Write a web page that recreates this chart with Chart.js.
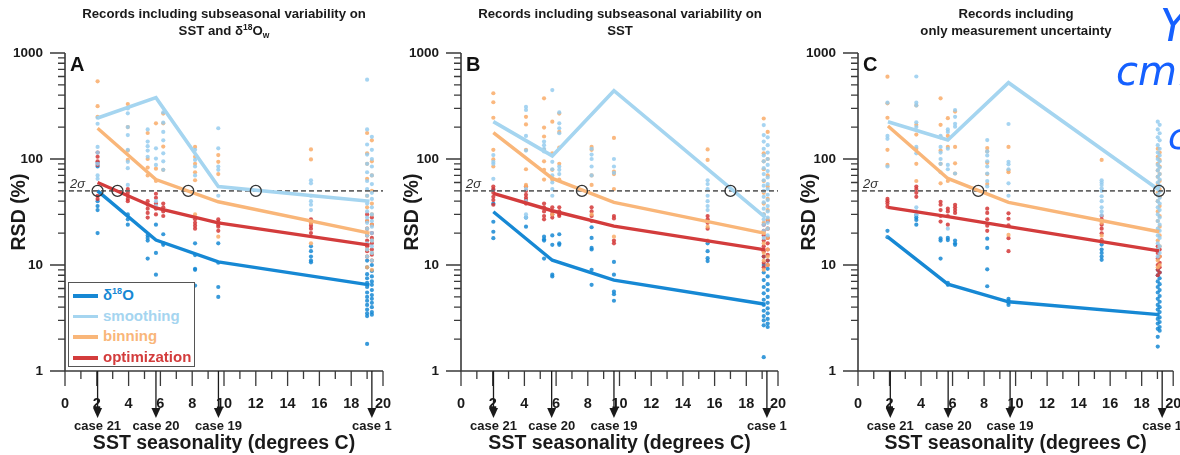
<!DOCTYPE html>
<html lang="en">
<head>
<meta charset="UTF-8">
<title>RSD vs SST seasonality</title>
<script src="https://cdn.jsdelivr.net/npm/chart.js"></script>
<style>
  body { margin: 0; background: #fff; font-family: 'Liberation Sans', Arial, sans-serif; }
  #wrap { position: relative; width: 1180px; height: 455px; overflow: hidden; }
  canvas { position: absolute; top: 0; }
  .ptitle { position: absolute; top: 6px; width: 360px; text-align: center; font-weight: bold;
            font-size: 13.2px; line-height: 16.5px; color: #1a1a1a; }
  .ptitle sup { font-size: 8.5px; vertical-align: 5px; line-height: 0; }
  .ptitle sub { font-size: 8.5px; vertical-align: -3px; line-height: 0; }
  .letter { position: absolute; top: 54px; font-weight: bold; font-size: 20px; line-height: 20px; color: #111; }
  .legend { position: absolute; left: 68px; top: 282px; width: 127px; height: 85px; border: 1px solid #555;
            background: #fff; box-sizing: border-box; padding-top: 2px; }
  .legend .row { height: 20.7px; position: relative; font-weight: bold; font-size: 15px; line-height: 20.7px; }
  .legend .sw { position: absolute; left: 4px; top: 9px; width: 25px; height: 3.5px; }
  .legend .tx { position: absolute; left: 34px; top: 0; }
  .legend sup { font-size: 9px; vertical-align: 6px; line-height: 0; }
  .hand { position: absolute; color: #1560ff; font-family: 'DejaVu Sans', sans-serif; font-style: italic; font-weight: 200; }
</style>
</head>
<body>
<div id="wrap">
  <canvas id="chartA" width="393" height="455" style="left:0px"></canvas>
  <canvas id="chartB" width="397" height="455" style="left:393px"></canvas>
  <canvas id="chartC" width="390" height="455" style="left:790px"></canvas>

  <div class="ptitle" style="left:44px">Records including subseasonal variability on<br>SST and &delta;<sup>18</sup>O<sub>w</sub></div>
  <div class="ptitle" style="left:440px">Records including subseasonal variability on<br>SST</div>
  <div class="ptitle" style="left:836px">Records including<br>only measurement uncertainty</div>

  <div class="letter" style="left:70px">A</div>
  <div class="letter" style="left:466px">B</div>
  <div class="letter" style="left:863px">C</div>

  <div class="legend">
    <div class="row"><span class="sw" style="background:#1688d4"></span><span class="tx" style="color:#1688d4">&delta;<sup>18</sup>O</span></div>
    <div class="row"><span class="sw" style="background:#a5d5f0"></span><span class="tx" style="color:#a5d5f0">smoothing</span></div>
    <div class="row"><span class="sw" style="background:#f9b679"></span><span class="tx" style="color:#f9b679">binning</span></div>
    <div class="row"><span class="sw" style="background:#d33c3c"></span><span class="tx" style="color:#d33c3c">optimization</span></div>
  </div>

  <div class="hand" style="left:1160px; top:0px; font-size:44px">Y</div>
  <div class="hand" style="left:1116px; top:48px; font-size:40px">cmf</div>
  <div class="hand" style="left:1168px; top:116px; font-size:36px">c</div>
</div>

<script>
// ---- shared values ----
const caseLabels = ['case 21', 'case 20', 'case 19', 'case 1'];
const caseX = [2.05, 5.72, 9.65, 19.3];
const sigmaLevel = 50;
const sigmaRange = [0.25, 20];

// ---- panel A ----
const aLineX = [2.05, 5.72, 9.64, 19.15];
const aD18O = [50, 17.2, 10.7, 6.5];
const aSmooth = [244, 379, 55, 40];
const aBin = [195, 64, 39.5, 20];
const aOpt = [60, 34.5, 25, 15.4];
const aCircleX = [2.05, 3.3, 7.75, 12.0];
const aCols = [2.05, 3.95, 5.2, 5.72, 6.18, 8.18, 9.64, 15.47, 19.0, 19.3];
const aDotsD18O = [[92, 85, 40, 36, 33, 20], [30, 27, 24], [19, 18, 17, 11.5], [24, 13, 8.1, 6.5], [19.5, 16, 15.5],
  [16, 12.4, 9.2, 9.0, 6.4], [16, 10.5, 6.2, 5.0], [15, 13.5, 12, 11, 10.6],
  [11, 9.5, 8.2, 7.5, 6.8, 6.2, 5.5, 5.0, 4.6, 4.2, 3.8, 3.5, 3.3, 1.8],
  [10, 8.8, 7.8, 7.0, 6.5, 5.8, 5.2, 4.8, 4.4, 4.0, 3.6, 3.4]];
const aDotsSmooth = [[245, 215, 130, 115, 90, 70, 65], [300, 270, 200, 168, 122, 94, 82, 57], [190, 146, 132, 120, 105],
  [126, 101, 88, 40, 36], [275, 220, 180, 150, 113, 95, 79], [122, 98, 85, 70], [195, 126, 85, 79, 45],
  [63, 59, 45, 40, 37, 33],
  [560, 190, 137, 110, 90, 75, 62, 52, 45, 38, 32, 28, 25, 22, 19, 16, 14, 12],
  [162, 122, 100, 85, 70, 58, 48, 42, 35, 30, 26, 23, 20, 17, 15, 13, 11]];
const aDotsBin = [[540, 315, 250], [330, 200, 120, 98], [176, 100, 83, 70], [217, 81, 62], [268, 217, 131, 79],
  [130, 105, 90, 75, 63, 30], [109, 94, 72, 18.5], [123, 99, 25, 16],
  [176, 113, 90, 65, 45, 35, 26, 22, 19, 14, 12, 9.5],
  [150, 95, 70, 50, 38, 30, 24, 17, 13, 11, 9]];
const aDotsOpt = [[115, 105, 95, 88, 45, 42], [52, 48, 45, 42, 40], [40, 37, 34, 31, 28], [47, 43, 38, 34, 30],
  [38, 35, 32, 29], [27, 25, 23.5, 22], [27, 25.5, 24, 23, 21], [27, 25, 23.5, 22, 20],
  [30, 26, 22, 19, 17, 15, 13.5, 12], [28, 24, 20, 18, 16, 14, 12.5, 11]];

// ---- panel B ----
const bLineX = [2.04, 5.76, 9.65, 19.2];
const bD18O = [31.8, 11.1, 7.2, 4.26];
const bSmooth = [225, 107, 441, 28.2];
const bBin = [177, 65.6, 39, 19.9];
const bOpt = [47.5, 32.5, 23.3, 13.9];
const bCircleX = [7.63, 17.0];
const bCols = [2.04, 4.1, 5.24, 5.76, 6.2, 8.24, 9.65, 15.56, 19.1, 19.35];
const bDotsD18O = [[51, 38, 25.6, 20.6, 17.9], [28, 23], [18.5, 17.5, 17, 11.5], [19, 15.5, 8.1, 7.8], [19.5, 16, 15.5],
  [22.7, 18, 14.5, 14, 9, 6.5], [10.7, 8.1, 5.6, 5.3, 4.6], [16, 13.5, 11.6, 10.9],
  [12, 10, 8.5, 7.2, 6.2, 5.4, 4.7, 4.2, 3.7, 3.3, 3.0, 2.7, 1.35],
  [11, 9.2, 7.8, 6.6, 5.8, 5.0, 4.4, 3.9, 3.5, 3.1, 2.8, 2.6]];
const bDotsSmooth = [[109, 94, 90, 65], [310, 290, 165, 120, 52, 40, 30, 28], [146, 135, 125, 118],
  [447, 94, 80, 70, 60, 52, 45], [275, 217, 195, 175, 85, 79, 72], [125, 110, 100, 85, 70], [100, 85, 74],
  [63, 58, 52, 45, 40, 36, 33],
  [209, 168, 146, 125, 108, 95, 82, 72, 63, 56, 50, 44, 39, 34, 30, 27, 24, 21, 18],
  [160, 135, 115, 100, 88, 77, 67, 58, 52, 46, 41, 36, 32, 28, 25, 22, 19]];
const bDotsBin = [[417, 343, 245, 122, 99, 85], [250, 212, 122, 80, 57, 55], [374, 198, 163, 122, 95, 79, 64],
  [225, 113, 79, 64, 30], [268, 180, 128, 90, 64], [130, 122, 70, 57, 30], [158, 76, 72, 52, 18.5], [123, 98, 23, 17],
  [241, 113, 95, 80, 62, 48, 38, 30, 25, 20, 16, 13, 11, 9],
  [180, 100, 70, 55, 42, 33, 27, 22, 18, 14, 12, 10]];
const bDotsOpt = [[55, 52, 48, 44, 41, 37], [55, 50, 46, 43, 41, 38], [38, 35, 32, 29, 27], [35, 32, 30, 28],
  [35, 32, 30, 29], [35, 32, 29, 26], [29, 27.5, 17, 16], [29, 27, 25, 22],
  [24, 21, 19, 17, 15, 13.5, 12, 10.5, 9.5], [26, 22, 18, 16, 14, 12.5, 11, 10]];

// ---- panel C ----
const cLineX = [1.9, 5.7, 9.55, 19.1];
const cD18O = [18.3, 6.6, 4.5, 3.4];
const cSmooth = [225, 151, 525, 51];
const cBin = [205, 65.6, 39, 20.6];
const cOpt = [35, 28.6, 23, 13.6];
const cCircleX = [7.63, 19.1];
const cCols = [1.87, 3.7, 5.24, 5.7, 6.16, 8.2, 9.55, 15.46, 19.02, 19.14];
const cDotsD18O = [[21, 18.3], [29.6, 28, 26.6, 24], [17.8, 17, 11.5], [18, 17.2, 6.8, 6.5], [17, 16, 15.5],
  [17.7, 14.5, 9.1, 6.3], [4.8, 4.6, 4.4, 4.2], [15.6, 14, 13, 12, 11.2],
  [9, 8, 7, 6.2, 5.5, 4.8, 4.2, 3.8, 3.4, 3.1, 2.8, 2.5, 2.1, 1.7],
  [8.5, 7.5, 6.6, 5.8, 5.1, 4.5, 4.0, 3.6, 3.2, 2.9, 2.6, 2.4]];
const cDotsSmooth = [[340, 165, 155, 85], [600, 340, 320, 222, 200, 130, 113, 35, 32, 30], [165, 130, 115, 100, 90, 75],
  [190, 180, 125, 88, 80, 22], [290, 250, 215, 202, 73], [151, 118, 108, 95, 85, 73, 62, 55], [214, 94, 89, 80, 59, 45],
  [63, 60, 57, 53, 50, 44.5, 40, 35, 32, 29.6],
  [225, 190, 160, 135, 115, 100, 88, 78, 68, 60, 53, 46, 40, 35, 30, 26, 22, 19, 16, 14, 12],
  [210, 175, 150, 125, 108, 95, 83, 72, 64, 56, 49, 43, 38, 33, 28, 24, 21, 18, 15, 13]];
const cDotsBin = [[598, 335, 245, 122, 88], [320, 210, 170, 125, 90, 62], [374, 210, 160, 120, 90, 59],
  [243, 165, 130, 62], [280, 130, 91, 73], [127, 118, 92, 72, 58], [130, 78, 75, 19.2], [98, 25, 18.9, 16.7],
  [125, 105, 90, 78, 68, 58, 48, 40, 32, 26, 21, 17, 14, 11, 9.5],
  [115, 98, 85, 72, 62, 52, 44, 36, 29, 23, 19, 15, 12, 10]];
const cDotsOpt = [[42, 40, 38, 35.5], [55, 52, 48, 44], [39.5, 37, 33, 29, 25.7], [34, 32, 29, 24], [37, 35, 33, 31],
  [34, 31, 27, 23.5, 21], [30.7, 27.3, 23.7, 17.9, 13.5], [29, 27, 24, 22, 19.9, 17.2],
  [15, 13, 11.5, 10, 9, 8], [14, 12, 10.5, 9.5, 8.5]];

// ---- styling ----
const FONT = "'Liberation Sans', Arial, sans-serif";
const lineColors = { d18o: '#1688d4', smooth: '#a5d5f0', bin: '#f9b679', opt: '#d33c3c' };
const dotColors = { d18o: 'rgba(22,136,212,0.85)', smooth: 'rgba(150,205,238,0.85)',
                    bin: 'rgba(249,172,105,0.85)', opt: 'rgba(211,55,55,0.85)' };
Chart.defaults.font.family = FONT;

const toPts = (xs, ys) => xs.map((x, i) => ({ x, y: ys[i] }));
const colPts = (cols, lists) => {
  const pts = [];
  lists.forEach((list, i) => list.forEach(v => pts.push({ x: cols[i], y: v })));
  return pts;
};

// draws axis lines, tick marks, the 2-sigma tag and the case arrows
const axesPlugin = {
  id: 'axesPlugin',
  afterDraw(chart) {
    const { ctx, chartArea: a, scales: { x, y } } = chart;
    ctx.save();
    ctx.strokeStyle = '#3a3a3a';
    ctx.lineWidth = 1.6;
    ctx.beginPath();
    ctx.moveTo(a.left, a.top);
    ctx.lineTo(a.left, a.bottom);
    ctx.lineTo(a.right, a.bottom);
    ctx.stroke();

    ctx.lineWidth = 1.3;
    ctx.beginPath();
    for (let d = 0; d <= 3; d++) {
      for (let m = 1; m <= 9; m++) {
        const v = m * Math.pow(10, d);
        if (v > 1000) break;
        const py = y.getPixelForValue(v);
        ctx.moveTo(a.left - (m === 1 ? 15 : 7), py);
        ctx.lineTo(a.left, py);
      }
    }
    for (let i = 0; i <= 20; i++) {
      const px = x.getPixelForValue(i);
      ctx.moveTo(px, a.bottom);
      ctx.lineTo(px, a.bottom + (i % 2 === 0 ? 15 : 8));
    }
    ctx.stroke();

    // 2 sigma tag
    ctx.fillStyle = '#333';
    ctx.font = 'italic 13px ' + FONT;
    ctx.textAlign = 'left';
    ctx.textBaseline = 'alphabetic';
    ctx.fillText('2\u03c3', a.left + 5, y.getPixelForValue(sigmaLevel) - 3);

    // case arrows
    ctx.strokeStyle = '#1a1a1a';
    ctx.fillStyle = '#1a1a1a';
    ctx.lineWidth = 1.3;
    caseX.forEach((cx, i) => {
      const px = x.getPixelForValue(cx);
      ctx.beginPath();
      ctx.moveTo(px, a.bottom);
      ctx.lineTo(px, 410);
      ctx.stroke();
      ctx.beginPath();
      ctx.moveTo(px - 4.5, 408);
      ctx.lineTo(px + 4.5, 408);
      ctx.lineTo(px, 418);
      ctx.closePath();
      ctx.fill();
      ctx.font = 'bold 13px ' + FONT;
      ctx.textAlign = 'center';
      ctx.textBaseline = 'middle';
      ctx.fillText(caseLabels[i], px, 426);
    });
    ctx.restore();
  }
};

function makePanel(id, yWidth, rightPad, p) {
  const lineDs = (data, color, w) => ({
    type: 'line', data, borderColor: color, borderWidth: w, pointRadius: 0, tension: 0, order: 1
  });
  const dotDs = (data, color) => ({
    type: 'scatter', data, backgroundColor: color, borderWidth: 0, pointRadius: 2.1, order: 6
  });
  new Chart(document.getElementById(id), {
    type: 'scatter',
    data: {
      datasets: [
        lineDs(toPts(p.lineX, p.smooth), lineColors.smooth, 3.6),
        lineDs(toPts(p.lineX, p.bin), lineColors.bin, 3.4),
        lineDs(toPts(p.lineX, p.opt), lineColors.opt, 3.4),
        lineDs(toPts(p.lineX, p.d18o), lineColors.d18o, 3.4),
        { type: 'line', data: toPts(sigmaRange, [sigmaLevel, sigmaLevel]), borderColor: '#666',
          borderWidth: 1.6, borderDash: [5, 3], pointRadius: 0, order: 3 },
        { type: 'scatter', data: p.circleX.map(cx => ({ x: cx, y: sigmaLevel })), pointRadius: 5.5,
          borderColor: '#333', borderWidth: 1.3, backgroundColor: 'rgba(0,0,0,0)', order: 0 },
        dotDs(colPts(p.cols, p.dotsSmooth), dotColors.smooth),
        dotDs(colPts(p.cols, p.dotsBin), dotColors.bin),
        dotDs(colPts(p.cols, p.dotsOpt), dotColors.opt),
        dotDs(colPts(p.cols, p.dotsD18O), dotColors.d18o)
      ]
    },
    options: {
      responsive: false,
      animation: false,
      devicePixelRatio: 1,
      events: [],
      layout: { padding: { top: 53, right: rightPad, bottom: 0, left: 0 } },
      plugins: { legend: { display: false }, tooltip: { enabled: false } },
      scales: {
        x: {
          type: 'linear', position: 'bottom', min: 0, max: 20,
          grid: { display: false, drawTicks: false },
          border: { display: false },
          ticks: { stepSize: 2, autoSkip: false, maxRotation: 0, padding: 24, color: '#1a1a1a',
                   font: { size: 14.5, weight: 'bold' } },
          title: { display: true, text: 'SST seasonality (degrees C)', color: '#1a1a1a',
                   font: { size: 19.5, weight: 'bold' }, padding: { top: 0, bottom: 0 } },
          afterFit: s => { s.height = 84; s.paddingLeft = 0; s.paddingRight = 0; }
        },
        y: {
          type: 'logarithmic', min: 1, max: 1000,
          grid: { display: true, drawOnChartArea: false, drawTicks: true, tickLength: 14, color: 'rgba(0,0,0,0)' },
          border: { display: false },
          ticks: {
            autoSkip: false, padding: 8, color: '#1a1a1a', font: { size: 13.5, weight: 'bold' },
            callback: v => {
              const l = Math.log10(v);
              return Math.abs(l - Math.round(l)) < 1e-6 ? String(Math.round(v)) : '';
            }
          },
          title: { display: true, text: 'RSD (%)', color: '#1a1a1a',
                   font: { size: 19.5, weight: 'bold' }, padding: { top: 8, bottom: 0 } },
          afterFit: s => { s.width = yWidth; s.paddingTop = 0; s.paddingBottom = 0; }
        }
      }
    },
    plugins: [axesPlugin]
  });
}

makePanel('chartA', 65, 10, {
  lineX: aLineX, d18o: aD18O, smooth: aSmooth, bin: aBin, opt: aOpt, circleX: aCircleX, cols: aCols,
  dotsD18O: aDotsD18O, dotsSmooth: aDotsSmooth, dotsBin: aDotsBin, dotsOpt: aDotsOpt
});
makePanel('chartB', 68, 12, {
  lineX: bLineX, d18o: bD18O, smooth: bSmooth, bin: bBin, opt: bOpt, circleX: bCircleX, cols: bCols,
  dotsD18O: bDotsD18O, dotsSmooth: bDotsSmooth, dotsBin: bDotsBin, dotsOpt: bDotsOpt
});
makePanel('chartC', 68, 5, {
  lineX: cLineX, d18o: cD18O, smooth: cSmooth, bin: cBin, opt: cOpt, circleX: cCircleX, cols: cCols,
  dotsD18O: cDotsD18O, dotsSmooth: cDotsSmooth, dotsBin: cDotsBin, dotsOpt: cDotsOpt
});
</script>
</body>
</html>
